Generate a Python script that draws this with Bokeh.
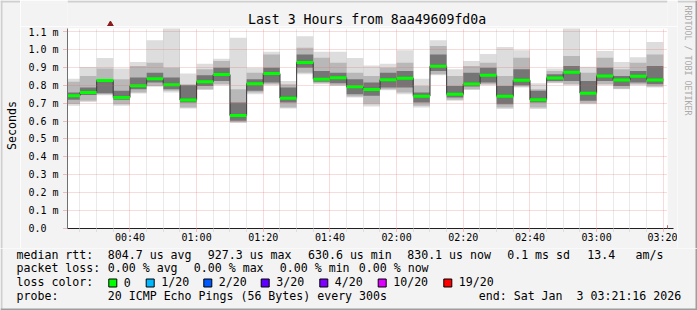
import math
from bokeh.plotting import figure
from bokeh.layouts import row, column
from bokeh.models import FixedTicker, Arrow, NormalHead, Range1d, ColumnDataSource
from bokeh.core.properties import value
from bokeh.embed import file_html
from bokeh.resources import INLINE

# ---------------- data (milliseconds) ----------------
bar_times = ["00:20", "00:25", "00:30", "00:35", "00:40", "00:45", "00:50", "00:55",
             "01:00", "01:05", "01:10", "01:15", "01:20", "01:25", "01:30", "01:35",
             "01:40", "01:45", "01:50", "01:55", "02:00", "02:05", "02:10", "02:15",
             "02:20", "02:25", "02:30", "02:35", "02:40", "02:45", "02:50", "02:55",
             "03:00", "03:05", "03:10", "03:15"]
bar_end = "03:20"
median = [0.742, 0.760, 0.826, 0.731, 0.797, 0.837, 0.803, 0.718, 0.819, 0.860,
          0.631, 0.809, 0.865, 0.728, 0.927, 0.834, 0.842, 0.791, 0.776, 0.831,
          0.839, 0.739, 0.906, 0.750, 0.807, 0.856, 0.739, 0.828, 0.719, 0.841,
          0.872, 0.756, 0.852, 0.830, 0.850, 0.830]
ping_max = [0.837, 0.902, 0.952, 0.893, 0.930, 1.052, 1.120, 0.865, 0.920, 0.948,
            1.065, 0.898, 0.987, 0.824, 1.074, 0.987, 0.987, 0.952, 0.911, 0.920,
            0.996, 0.837, 1.052, 0.889, 0.935, 0.974, 1.013, 0.996, 0.811, 0.893,
            1.120, 0.904, 0.991, 0.930, 0.957, 1.041]
ping_min = [0.685, 0.707, 0.744, 0.685, 0.754, 0.791, 0.759, 0.670, 0.774, 0.800,
            0.589, 0.750, 0.800, 0.670, 0.861, 0.806, 0.796, 0.731, 0.681, 0.772,
            0.750, 0.676, 0.856, 0.713, 0.774, 0.800, 0.667, 0.787, 0.667, 0.811,
            0.800, 0.694, 0.800, 0.778, 0.800, 0.787]
mid_hi = [0.819, 0.852, 0.893, 0.833, 0.907, 0.926, 0.898, 0.806, 0.889, 0.935,
          0.778, 0.870, 0.972, 0.806, 1.009, 0.954, 0.926, 0.870, 0.852, 0.898,
          0.926, 0.796, 1.019, 0.852, 0.907, 0.926, 0.852, 0.954, 0.778, 0.880,
          0.963, 0.870, 0.954, 0.889, 0.926, 0.972]
mid_lo = [0.696, 0.713, 0.750, 0.694, 0.759, 0.796, 0.769, 0.676, 0.778, 0.806,
          0.593, 0.759, 0.806, 0.676, 0.870, 0.811, 0.800, 0.737, 0.694, 0.778,
          0.759, 0.685, 0.861, 0.719, 0.778, 0.806, 0.676, 0.793, 0.676, 0.815,
          0.806, 0.700, 0.806, 0.781, 0.806, 0.793]
core_hi = [0.760, 0.787, 0.835, 0.769, 0.843, 0.870, 0.843, 0.800, 0.856, 0.898,
           0.704, 0.833, 0.898, 0.787, 0.972, 0.880, 0.870, 0.833, 0.815, 0.870,
           0.880, 0.759, 0.972, 0.796, 0.870, 0.898, 0.796, 0.889, 0.769, 0.861,
           0.907, 0.824, 0.898, 0.852, 0.880, 0.907]
core_lo = [0.719, 0.745, 0.755, 0.719, 0.778, 0.815, 0.778, 0.704, 0.796, 0.824,
           0.602, 0.769, 0.815, 0.704, 0.898, 0.819, 0.811, 0.750, 0.741, 0.787,
           0.787, 0.704, 0.880, 0.731, 0.793, 0.815, 0.694, 0.800, 0.704, 0.824,
           0.824, 0.713, 0.824, 0.796, 0.815, 0.806]

x_ticks = [40, 60, 80, 100, 120, 140, 160, 180, 200]
x_tick_labels = ["00:40", "01:00", "01:20", "01:40", "02:00", "02:20", "02:40", "03:00", "03:20"]
x_minor = [25, 30, 35, 45, 50, 55, 65, 70, 75, 85, 90, 95, 105, 110, 115, 125, 130, 135,
           145, 150, 155, 165, 170, 175, 185, 190, 195]
y_ticks = [0.0, 0.1, 0.2, 0.3, 0.4, 0.5, 0.6, 0.7, 0.8, 0.9, 1.0, 1.1]
y_tick_labels = ["0.0\u00a0\u00a0", "0.1 m", "0.2 m", "0.3 m", "0.4 m", "0.5 m", "0.6 m",
                 "0.7 m", "0.8 m", "0.9 m", "1.0 m", "1.1 m"]

title_text = "Last 3 Hours from 8aa49609fd0a"
loss_labels = ["0", "1/20", "2/20", "3/20", "4/20", "10/20", "19/20"]
loss_colors = ["#00ff00", "#00b8ff", "#0059ff", "#5e00ff", "#7e00ff", "#dd00ff", "#ff0000"]

# ---------------- layout constants (canvas pixels) ----------------
W, H = 697, 310
LEFT_W, RIGHT_W = 20, 20       # side strips
TOP_H = 26                     # title strip
CHART_H = 222                  # chart figure height (frame 28..228)
LEG_H = H - TOP_H - CHART_H    # legend strip
FL, FR, FT, FB = 67, 667, 28, 228
BG = "#f3f3f3"
MONO = "DejaVu Sans Mono"
LIGHT, DARK = "#cfcfcf", "#9e9e9e"


def tmin(s):
    h, m = s.split(":")
    return int(h) * 60 + int(m)


start_min = tmin("00:21") + 16 / 60.0
end_min = tmin("03:21") + 16 / 60.0
y_top = 1.117

lefts = [tmin(t) for t in bar_times]
rights = lefts[1:] + [tmin(bar_end)]


def blank(w, h):
    f = figure(width=w, height=h, x_range=Range1d(0, w), y_range=Range1d(h, 0),
               output_backend="svg", toolbar_location=None,
               x_axis_location=None, y_axis_location=None,
               min_border=0, min_border_left=0, min_border_right=0,
               min_border_top=0, min_border_bottom=0)
    f.background_fill_color = BG
    f.border_fill_color = BG
    f.outline_line_color = None
    f.xgrid.visible = False
    f.ygrid.visible = False
    return f


def txt(f, x, y, t, size="11.6px", color="#000000", align="left",
        baseline="middle", angle=0.0):
    f.text(x=[x], y=[y], text=[t], text_font=value(MONO), text_font_size=value(size),
           text_color=color, text_align=align, text_baseline=baseline, angle=angle)


def box(f, x0, y0, x1, y1, color, line=None):
    f.quad(left=[x0], right=[x1], top=[y0], bottom=[y1], fill_color=color,
           line_color=line, line_width=1)


# ---------------- chart ----------------
src = ColumnDataSource(dict(left=lefts, right=rights, med=median, mx=ping_max, mn=ping_min,
                            mh=mid_hi, ml=mid_lo, ch=core_hi, cl=core_lo))

CW = W - LEFT_W - RIGHT_W
p = figure(width=CW, height=CHART_H, output_backend="svg", toolbar_location=None,
           x_range=Range1d(start_min, end_min), y_range=Range1d(0, y_top),
           min_border_left=FL - LEFT_W, min_border_right=(W - RIGHT_W) - FR,
           min_border_top=FT - TOP_H, min_border_bottom=(TOP_H + CHART_H) - FB)
p.background_fill_color = "white"
p.border_fill_color = BG
p.outline_line_color = None

p.quad(left="left", right="right", bottom="mn", top="mx", source=src,
       fill_color="#dddddd", line_color=None)
p.quad(left="left", right="right", bottom="ml", top="mh", source=src,
       fill_color="#b8b8b8", line_color=None)
p.quad(left="left", right="right", bottom="cl", top="ch", source=src,
       fill_color="#757575", line_color=None)
p.step(x=lefts + [rights[-1]], y=median + [median[-1]], mode="after",
       line_color="#202020", line_width=1)
p.segment(x0="left", x1="right", y0="med", y1="med", source=src,
          line_color="#00ff00", line_width=3, line_cap="butt")

p.xaxis.ticker = FixedTicker(ticks=x_ticks, minor_ticks=x_minor)
p.xaxis.major_label_overrides = dict(zip(x_ticks, x_tick_labels))
p.yaxis.ticker = FixedTicker(ticks=y_ticks)
p.yaxis.major_label_overrides = dict(zip(y_ticks, y_tick_labels))
for ax in (p.xaxis[0], p.yaxis[0]):
    ax.major_label_text_font = MONO
    ax.major_label_text_font_size = "10px"
    ax.major_label_text_color = "#000000"
    ax.major_tick_in = 0
    ax.minor_tick_in = 0
p.xaxis.axis_line_color = "#202020"
p.yaxis.axis_line_color = "#707070"
p.xaxis.major_tick_out = 3
p.xaxis.major_tick_line_color = "#e88080"
p.xaxis.major_tick_line_dash = "1 1"
p.xaxis.minor_tick_out = 3
p.xaxis.minor_tick_line_color = "#c8c8c8"
p.xaxis.minor_tick_line_dash = "1 1"
p.xaxis.major_label_standoff = 0
p.yaxis.major_tick_out = 4
p.yaxis.major_tick_line_color = "#e88080"
p.yaxis.major_tick_line_dash = "1 1"
p.yaxis.minor_tick_line_color = None
p.yaxis.major_label_standoff = 5

p.xgrid.grid_line_color = "#e06060"
p.xgrid.grid_line_alpha = 0.45
p.xgrid.grid_line_dash = "1 1"
p.xgrid.minor_grid_line_color = "#a0a0a0"
p.xgrid.minor_grid_line_alpha = 0.45
p.xgrid.minor_grid_line_dash = "1 1"
p.ygrid.grid_line_color = "#e06060"
p.ygrid.grid_line_alpha = 0.45
p.ygrid.grid_line_dash = "1 1"
p.xgrid.level = "overlay"
p.ygrid.level = "overlay"

# arrow on the right end of the time axis
p.add_layout(Arrow(end=NormalHead(size=6, fill_color="#8b1a1a", line_color="#8b1a1a"),
                   x_start=600, y_start=0, x_end=606, y_end=0,
                   start_units="screen", end_units="screen", line_color="#202020"))

# ---------------- title strip ----------------
top = blank(CW, TOP_H)
txt(top, 348 - LEFT_W, 19.2, title_text, size="13.2px", align="center")
top.patch(x=[FL - LEFT_W - 3.5, FL - LEFT_W + 3.5, FL - LEFT_W],
          y=[TOP_H, TOP_H, 20.5], fill_color="#8b1a1a", line_color="#8b1a1a")
box(top, 0, 0, CW, 2, LIGHT)

# ---------------- left strip ----------------
lf = blank(LEFT_W, TOP_H + CHART_H)
txt(lf, 11, 125, "Seconds", align="center", angle=math.pi / 2)
box(lf, 0, 0, LEFT_W, 2, LIGHT)
box(lf, 0, 0, 2, TOP_H + CHART_H, LIGHT)

# ---------------- right strip ----------------
rf = blank(RIGHT_W, TOP_H + CHART_H)
txt(rf, 687 - (W - RIGHT_W), 60, "RRDTOOL / TOBI OETIKER", size="8.3px", color="#aaaaaa",
    align="center", angle=-math.pi / 2)
box(rf, 0, 0, RIGHT_W, 2, LIGHT)
box(rf, RIGHT_W - 2, 0, RIGHT_W, TOP_H + CHART_H, DARK)

# ---------------- legend strip ----------------
lg = blank(W, LEG_H)
Y0 = TOP_H + CHART_H
rows = [254.3 - Y0, 267.7 - Y0, 281.5 - Y0, 295.2 - Y0]
txt(lg, 16, rows[0], "median rtt:")
txt(lg, 107.3, rows[0], "804.7 us avg")
txt(lg, 207.3, rows[0], "927.3 us max")
txt(lg, 307.5, rows[0], "630.6 us min")
txt(lg, 406.7, rows[0], "830.1 us now")
txt(lg, 506.7, rows[0], "0.1 ms sd")
txt(lg, 586.7, rows[0], "13.4")
txt(lg, 635.0, rows[0], "am/s")
txt(lg, 16, rows[1], "packet loss:")
txt(lg, 107.3, rows[1], "0.00 % avg")
txt(lg, 193.3, rows[1], "0.00 % max")
txt(lg, 279.3, rows[1], "0.00 % min")
txt(lg, 358.3, rows[1], "0.00 % now")
txt(lg, 16, rows[2], "loss color:")
box_x = [108.3, 145.7, 203.3, 260.7, 319.3, 377.7, 443.3]
for bx, lab, col in zip(box_x, loss_labels, loss_colors):
    box(lg, bx, 278.5 - Y0, bx + 8, 286.5 - Y0, col, line="#000000")
    txt(lg, bx + 15, rows[2], lab)
txt(lg, 16, rows[3], "probe:")
txt(lg, 107.3, rows[3], "20 ICMP Echo Pings (56 Bytes) every 300s")
txt(lg, 478.3, rows[3], "end: Sat Jan\u00a0\u00a03 03:21:16 2026")
box(lg, 0, 0, 2, LEG_H, LIGHT)
box(lg, 0, LEG_H - 2, W, LEG_H, DARK)
box(lg, W - 2, 0, W, LEG_H, DARK)

layout = column(row(lf, column(top, p, spacing=0), rf, spacing=0), lg, spacing=0)
open("out.html", "w").write(file_html(layout, INLINE))
